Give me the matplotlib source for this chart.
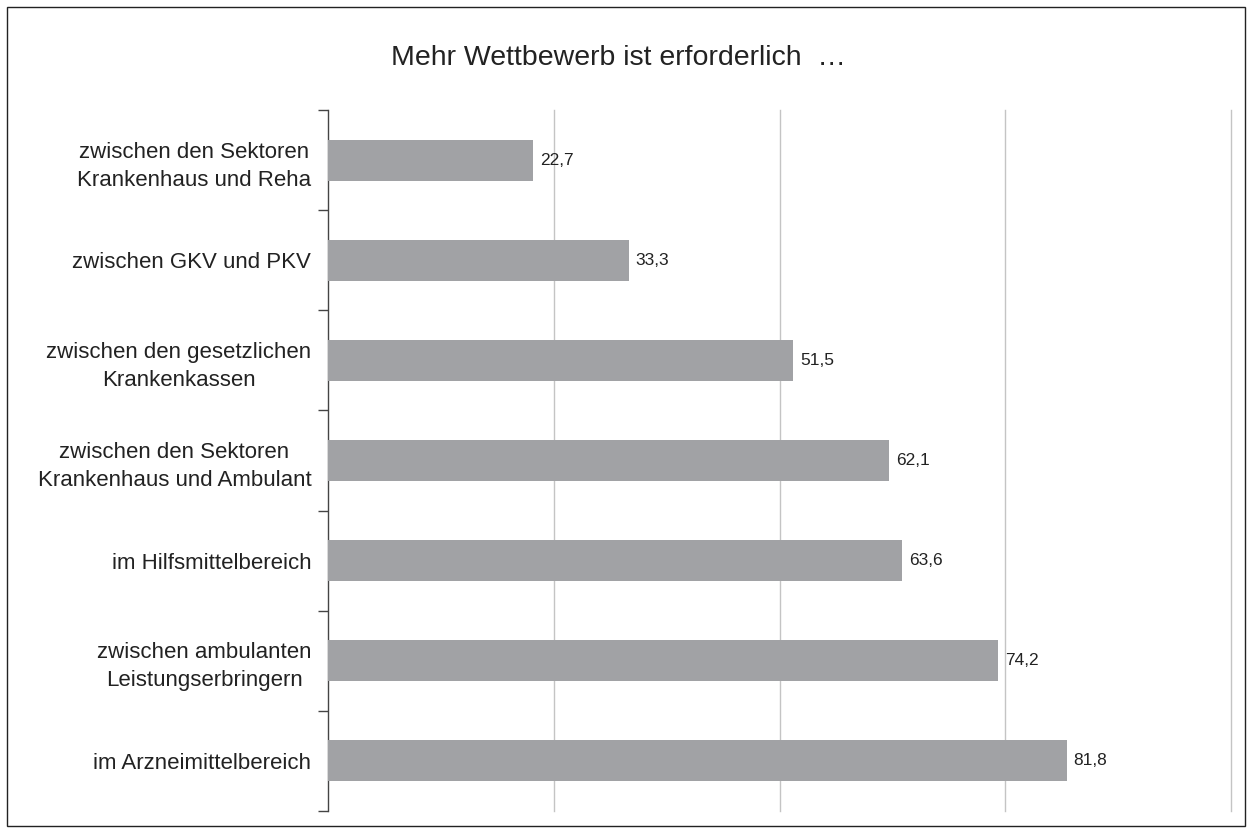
import matplotlib
matplotlib.use("Agg")
import matplotlib.pyplot as plt
from matplotlib.patches import Rectangle
import numpy as np

plt.rcParams['font.family'] = ['Liberation Sans', 'DejaVu Sans']

title = "Mehr Wettbewerb ist erforderlich  …"
categories = [
    "zwischen den Sektoren\nKrankenhaus und Reha",
    "zwischen GKV und PKV",
    "zwischen den gesetzlichen\nKrankenkassen",
    "zwischen den Sektoren\nKrankenhaus und Ambulant",
    "im Hilfsmittelbereich",
    "zwischen ambulanten\nLeistungserbringern",
    "im Arzneimittelbereich",
]
values = [22.7, 33.3, 51.5, 62.1, 63.6, 74.2, 81.8]
x_grid = [25, 50, 75, 100]

fig = plt.figure(figsize=(12.53, 8.33), dpi=100)
fig.patches.append(Rectangle((7/1253, 7/833), 1238/1253, 819/833, transform=fig.transFigure,
                             fill=False, edgecolor='#222222', linewidth=1.0))
ax = fig.add_axes([328/1253, 1-811/833, (1231-328)/1253, (811-110)/833])

n = len(categories)
y = np.arange(n)
ax.barh(y, values, height=0.41, color='#A1A2A5', zorder=3)
ax.set_ylim(n - 0.5, -0.5)
ax.set_xlim(0, 100)

for xv in x_grid:
    ax.axvline(xv, color='#C4C4C4', linewidth=1.0, zorder=1, clip_on=False)

for yi, v in zip(y, values):
    ax.annotate(f"{v:.1f}".replace('.', ','), xy=(v, yi), xytext=(5, 0),
                textcoords='offset points', va='center', ha='left',
                fontsize=12.5, color='#222222')

ax.set_yticks(y)
ax.set_yticklabels(categories, fontsize=16, color='#222222', multialignment='center',
                   linespacing=1.45)
ax.tick_params(axis='y', which='major', length=0, pad=12)
ax.set_yticks(np.arange(n + 1) - 0.5, minor=True)
ax.tick_params(axis='y', which='minor', length=7, width=1.0, color='#444444', direction='out')
ax.set_xticks([])
for s in ['top', 'right', 'bottom']:
    ax.spines[s].set_visible(False)
ax.spines['left'].set_color('#444444')
ax.spines['left'].set_linewidth(1.0)

fig.text(618/1253, 1-58/833, title, ha='center', va='center', fontsize=20.5, color='#222222')

fig.savefig("out.png", dpi=100)
